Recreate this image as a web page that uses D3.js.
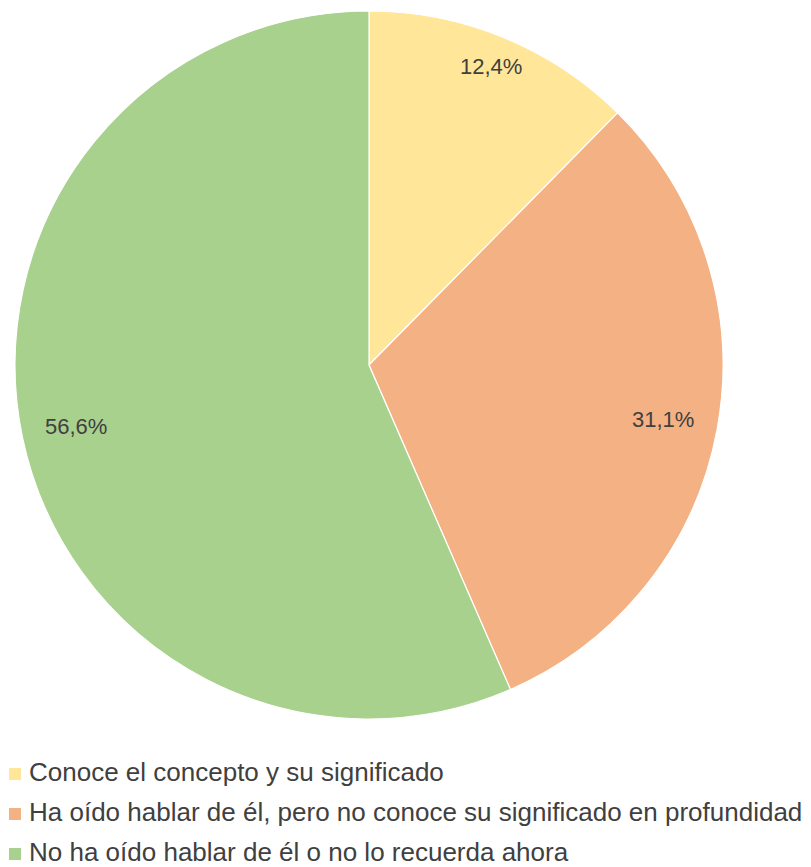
<!DOCTYPE html>
<html><head><meta charset="utf-8">
<script src="https://cdn.jsdelivr.net/npm/d3@7"></script>
<style>body{margin:0;background:#fff}svg{display:block}</style>
</head><body>
<svg id="c" width="811" height="867"></svg>
<script>
const categories = [
  "Conoce el concepto y su significado",
  "Ha oído hablar de él, pero no conoce su significado en profundidad",
  "No ha oído hablar de él o no lo recuerda ahora"
];
const values = [12.4, 31.1, 56.6];
const labels = ["12,4%", "31,1%", "56,6%"];
const colors = ["#FFE699", "#F4B183", "#A9D18E"];

const svg = d3.select("#c");
const cx = 369, cy = 365, R = 354;
const g = svg.append("g").attr("transform", `translate(${cx},${cy})`);
const pie = d3.pie().sort(null).value(d => d)(values);
const arc = d3.arc().innerRadius(0).outerRadius(R);
g.selectAll("path").data(pie).join("path")
  .attr("d", arc).attr("fill", (d,i) => colors[i])
  .attr("stroke", "#fff").attr("stroke-width", 1.2);

g.selectAll("text").data(pie).join("text")
  .attr("transform", (d,i) => {
    const a = (d.startAngle + d.endAngle) / 2;
    const r = R * (i === 0 ? 0.91 : 0.845);
    return `translate(${r*Math.sin(a)},${-r*Math.cos(a)})`;
  })
  .attr("text-anchor", "middle").attr("dominant-baseline", "central")
  .attr("font-family", "'Liberation Sans', Arial, sans-serif")
  .attr("font-size", 22).attr("fill", "#404040")
  .text((d,i) => labels[i]);

const lg = svg.append("g");
categories.forEach((c, i) => {
  const base = 781 + i * 40;
  lg.append("rect").attr("x", 9).attr("y", base - 13).attr("width", 12).attr("height", 12).attr("fill", colors[i]);
  lg.append("text").attr("x", 29).attr("y", base)
    .attr("font-family", "'Liberation Sans', Arial, sans-serif").attr("font-size", 26)
    .attr("fill", "#404040").text(c);
});
</script>
</body></html>
